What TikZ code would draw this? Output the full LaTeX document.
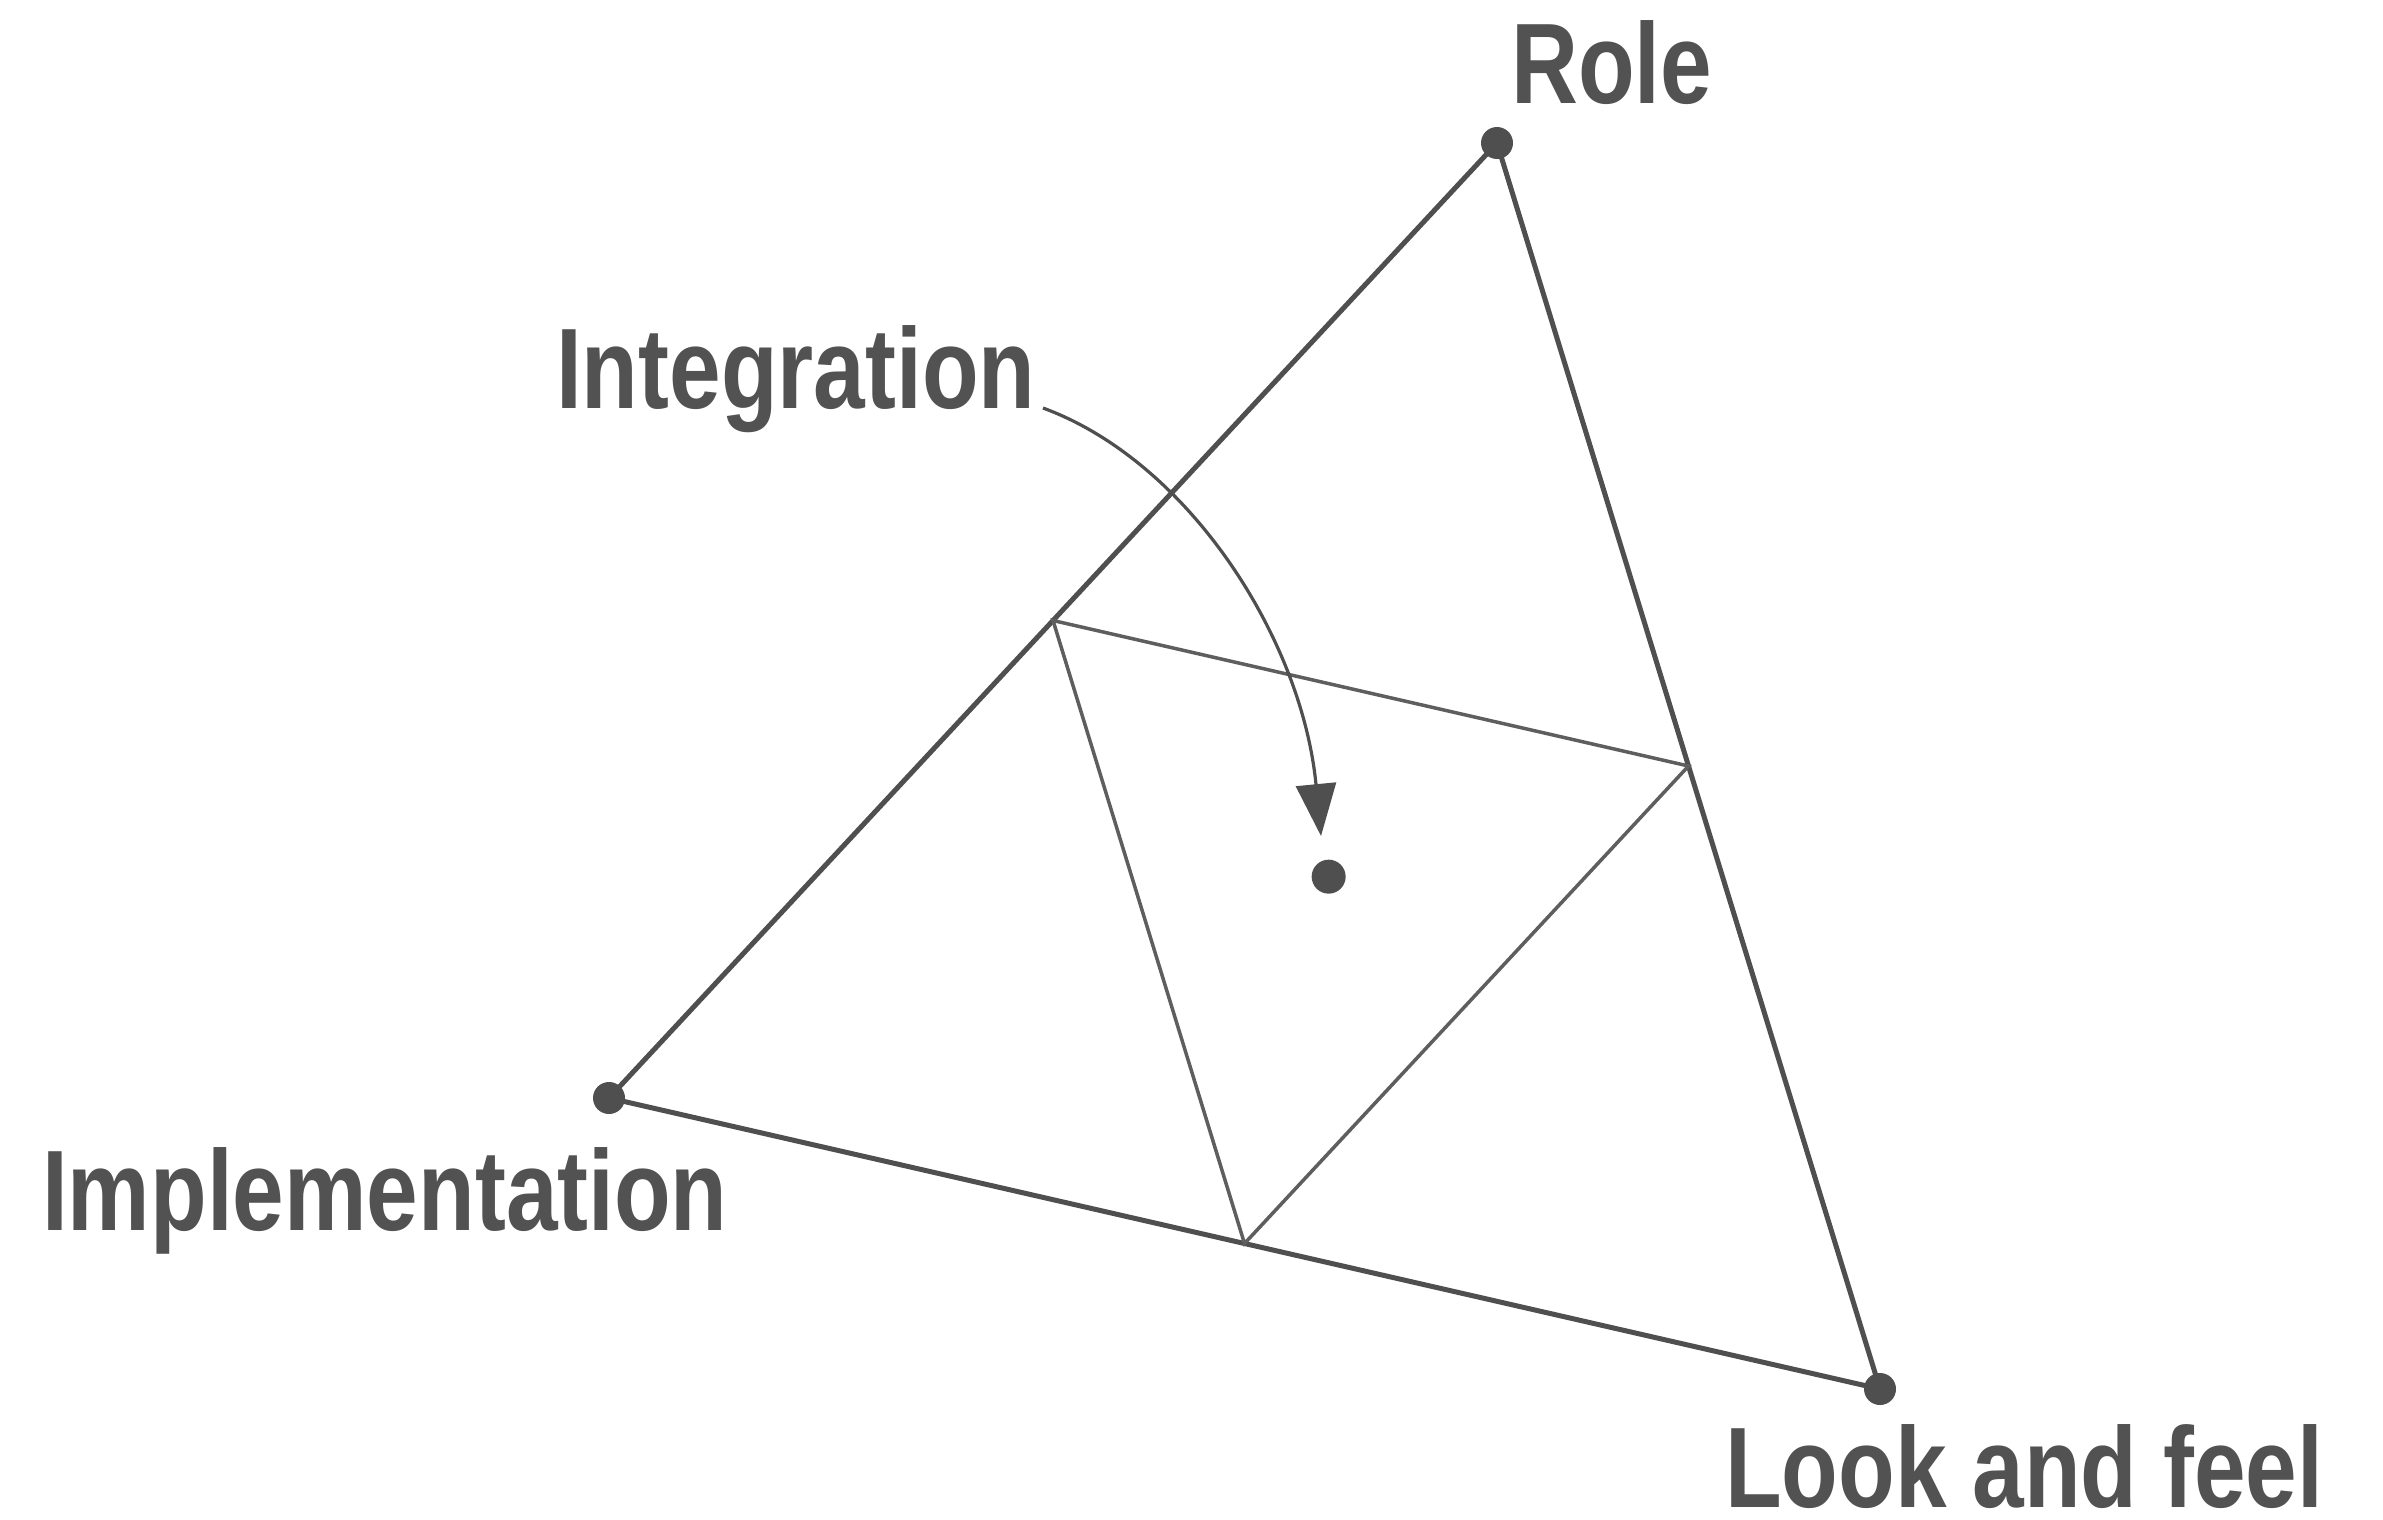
\documentclass[tikz,border=0pt]{standalone}
\usepackage{fontspec}
\setmainfont{Liberation Sans}[BoldFont={Liberation Sans Bold}]
\newfontfamily\labelfont{Liberation Sans Bold}[FakeStretch=0.81]
\usetikzlibrary{calc,arrows.meta}
\definecolor{ink}{HTML}{4F4F4F}
\definecolor{thin}{HTML}{5E5E5E}
\definecolor{txt}{HTML}{525252}
\begin{document}
\begin{tikzpicture}[x=1pt,y=-1pt,
  dotnode/.style={circle,fill=ink,draw=none,inner sep=0pt,minimum size=32pt},
  cdot/.style={circle,fill=ink,draw=none,inner sep=0pt,minimum size=34pt},
  lbl/.style={anchor=base west,inner sep=0pt,text=txt,font=\labelfont\fontsize{114.5}{120}\selectfont},
  outer/.style={draw=ink,line width=5pt,line join=round},
  inner/.style={draw=thin,line width=3.5pt},
  pointer/.style={draw=ink,line width=3.2pt,-{Triangle[length=52pt,width=40pt]}}]
\useasboundingbox (0,0) rectangle (2383,1520);
\fill[white] (0,0) rectangle (2383,1520);
% vertices
\coordinate (R) at (1497,143);
\coordinate (I) at (609,1098);
\coordinate (L) at (1880,1389);
% midpoints and centroid
\coordinate (MRI) at ($(R)!0.5!(I)$);
\coordinate (MRL) at ($(R)!0.5!(L)$);
\coordinate (MIL) at ($(I)!0.5!(L)$);
\coordinate (C) at ($1/3*(R)+1/3*(I)+1/3*(L)$);
% outer triangle
\draw[outer] (R) -- (I) -- (L) -- cycle;
% inner triangle
\draw[inner] (MRI) -- (MRL) -- (MIL) -- cycle;
% dots
\node[dotnode] (dR) at (R) {};
\node[dotnode] (dI) at (I) {};
\node[dotnode] (dL) at (L) {};
\node[cdot] (dC) at (C) {};
% labels
\node[lbl] (tR) at (1511,103) {Role};
\node[lbl] (tInt) at (556,408) {Integration};
\node[lbl] (tImp) at (42,1230) {Implementation};
\node[lbl] (tL) at (1725,1507) {Look and feel};
% pointer
\coordinate (aS) at (1043,408);
\coordinate (aE) at (1321,836);
\draw[pointer] (aS) .. controls (1190,462) and (1302,640) .. (aE);
\end{tikzpicture}
\end{document}
